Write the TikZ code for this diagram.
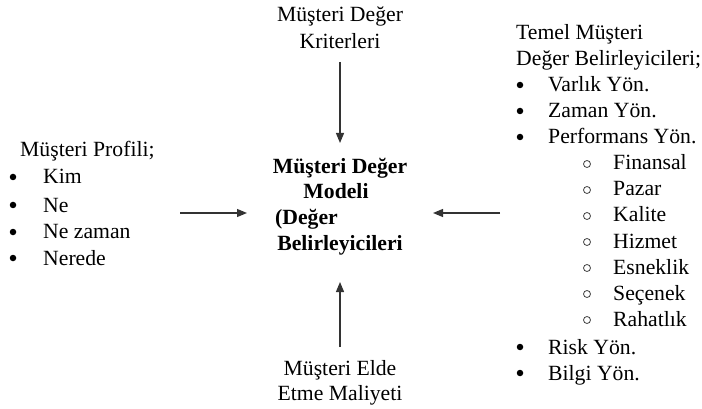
\documentclass[tikz,border=0pt]{standalone}
\usepackage{fontspec}
\setmainfont{Liberation Serif}
\usetikzlibrary{arrows.meta}
\begin{document}
\begin{tikzpicture}[x=1pt,y=-1pt,
  txt/.style={inner sep=0pt,font=\fontsize{21.7}{25}\selectfont,anchor=base west},
  ctxt/.style={inner sep=0pt,font=\fontsize{21.7}{25}\selectfont,anchor=base},
  btxt/.style={inner sep=0pt,font=\fontsize{21.7}{25}\selectfont\bfseries,anchor=base},
  dot/.style={circle,fill=black,inner sep=0pt,minimum size=6.5pt},
  ring/.style={circle,draw=black!75,line width=0.8pt,inner sep=0pt,minimum size=7pt},
  flow/.style={line width=1.2pt,draw=black!80,-{Triangle[length=10pt,width=8pt]}}]
\useasboundingbox (0,0) rectangle (702,409);

% centre: the value model
\node[btxt] (m1) at (340,174) {Müşteri Değer};
\node[btxt] (m2) at (336,199) {Modeli};
\node[txt,font=\fontsize{21.7}{25}\selectfont\bfseries] (m3) at (275,224) {(Değer};
\node[btxt] (m4) at (340,250) {Belirleyicileri};

% top: value criteria
\node[ctxt] (t1) at (340,22) {Müşteri Değer};
\node[ctxt] (t2) at (340,49) {Kriterleri};
\coordinate (topA) at (340,62);
\coordinate (topB) at (340,143);
\draw[flow] (topA) -- (topB);

% bottom: acquisition cost
\node[ctxt] (b1) at (340,375) {Müşteri Elde};
\node[ctxt] (b2) at (340,400) {Etme Maliyeti};
\coordinate (botA) at (340,347);
\coordinate (botB) at (340,282);
\draw[flow] (botA) -- (botB);

% left: customer profile
\node[txt] (p0) at (20,157) {Müşteri Profili;};
\foreach \y/\t [count=\i] in {184/Kim,212/Ne,239/Ne zaman,265/Nerede}{
  \node[dot] (pd\i) at (13,\y-7) {};
  \node[txt] (p\i) at (43,\y) {\t};
}
\coordinate (leftA) at (180,213);
\coordinate (leftB) at (247,213);
\draw[flow] (leftA) -- (leftB);

% right: basic value determinants
\node[txt] (r0) at (516,40) {Temel Müşteri};
\node[txt] (r00) at (516,66) {Değer Belirleyicileri;};
\foreach \y/\t [count=\i] in {92/Varlık Yön.,118/Zaman Yön.,144/Performans Yön.,354/Risk Yön.,380/Bilgi Yön.}{
  \node[dot] (rd\i) at (520,\y-7) {};
  \node[txt] (r\i) at (548,\y) {\t};
}
\foreach \y/\t [count=\i] in {170/Finansal,196/Pazar,222/Kalite,248/Hizmet,274/Esneklik,300/Seçenek,326/Rahatlık}{
  \node[ring] (sd\i) at (587,\y-6) {};
  \node[txt] (s\i) at (613,\y) {\t};
}
\coordinate (rightA) at (500,213);
\coordinate (rightB) at (433,213);
\draw[flow] (rightA) -- (rightB);
\end{tikzpicture}
\end{document}
